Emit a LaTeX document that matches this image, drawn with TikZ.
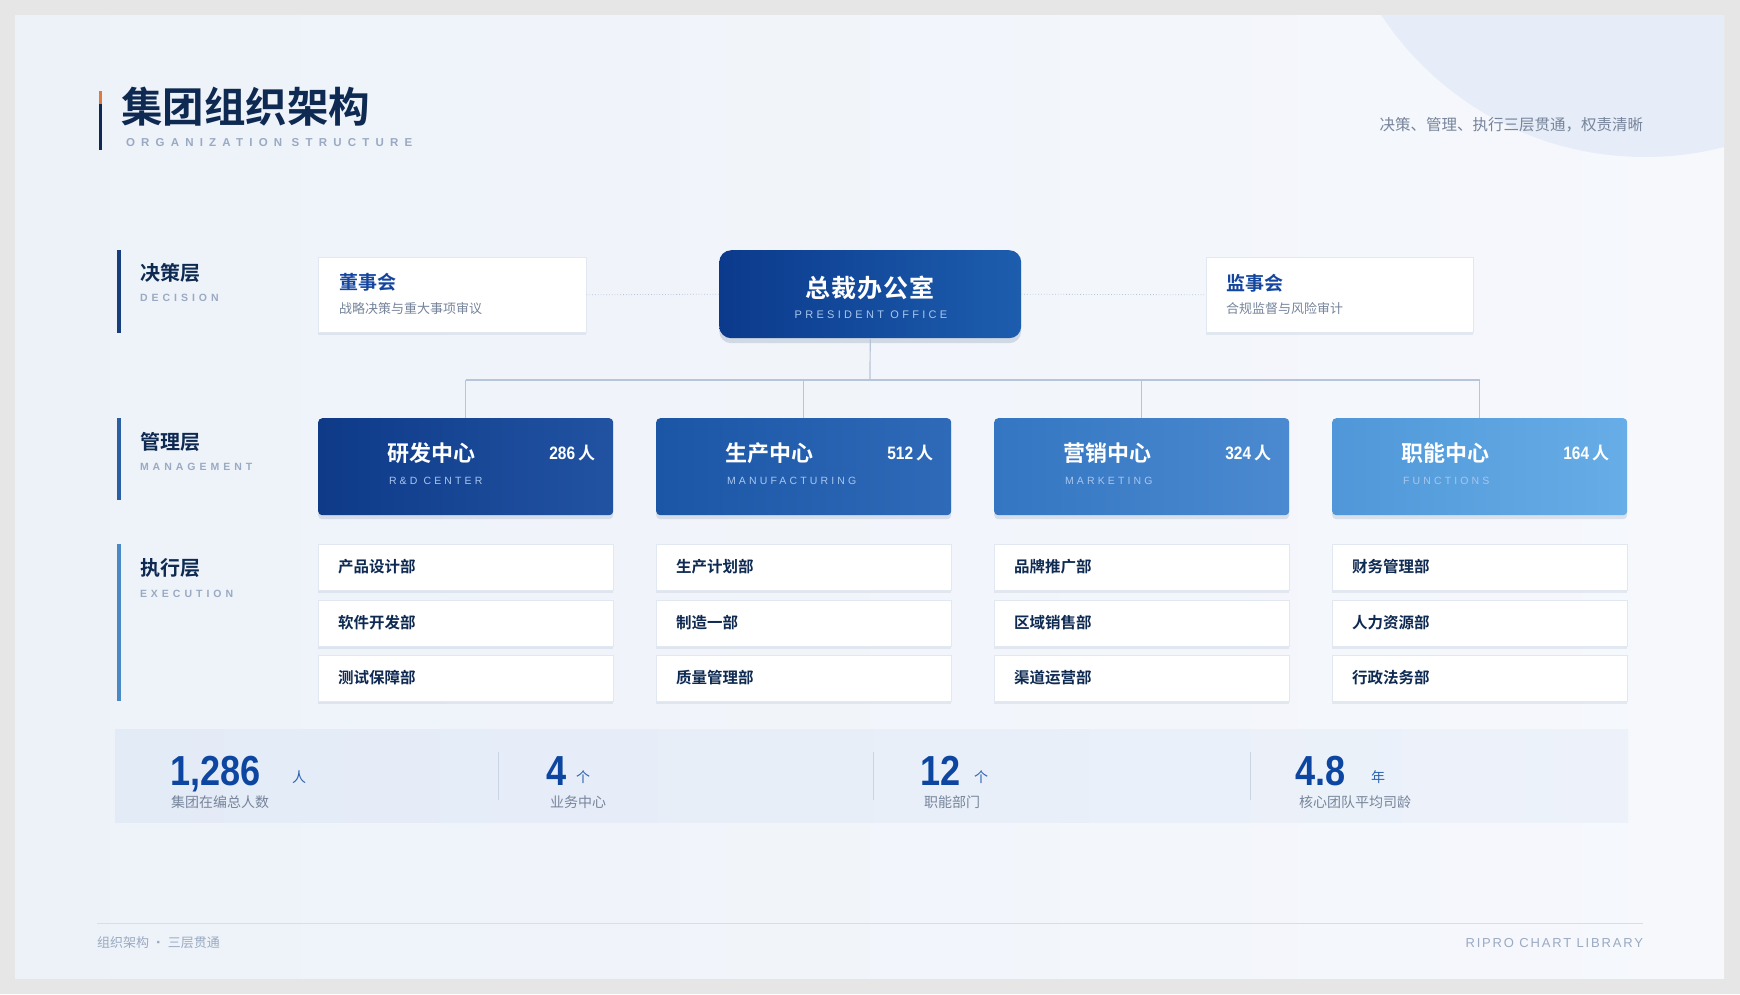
\documentclass[tikz,border=0pt]{standalone}
\usepackage{fontspec}
\setmainfont{Noto Sans CJK SC}[BoldFont={Noto Sans CJK SC Bold}]
\newfontfamily\numf{Liberation Sans}[FakeStretch=0.86]
\newfontfamily\spcf{Liberation Sans}[LetterSpace=54]
\newfontfamily\spcm{Liberation Sans}[LetterSpace=30]
\newfontfamily\spcl{Liberation Sans}[LetterSpace=38]
\newfontfamily\spcs{Liberation Sans}[LetterSpace=14]
\usetikzlibrary{shadows}
\definecolor{outerg}{HTML}{E6E6E7}
\definecolor{slideL}{HTML}{EDF2F9}
\definecolor{slideR}{HTML}{F6F8FC}
\definecolor{circc}{HTML}{E6EDF8}
\definecolor{titlec}{HTML}{0F2A52}
\definecolor{subc}{HTML}{9AAAC2}
\definecolor{accento}{HTML}{E07A3C}
\definecolor{bar1}{HTML}{173F7E}
\definecolor{bar2}{HTML}{2B5FA3}
\definecolor{bar3}{HTML}{4A88C6}
\definecolor{bluet}{HTML}{1446A0}
\definecolor{greyt}{HTML}{76849A}
\definecolor{boxline}{HTML}{E2E8F1}
\definecolor{shadowc}{HTML}{1A3A6A}
\definecolor{presA}{HTML}{0B3A8C}
\definecolor{presB}{HTML}{1D5DAE}
\definecolor{c1a}{HTML}{0E3A88}
\definecolor{c1b}{HTML}{2153A2}
\definecolor{c2a}{HTML}{1B56A6}
\definecolor{c2b}{HTML}{2E6AB8}
\definecolor{c3a}{HTML}{3476C2}
\definecolor{c3b}{HTML}{4B8AD0}
\definecolor{c4a}{HTML}{4F97D8}
\definecolor{c4b}{HTML}{67ADE7}
\definecolor{csub}{HTML}{A9C6EE}
\definecolor{busc}{HTML}{B7C5D8}
\definecolor{bandL}{HTML}{E3EBF7}
\definecolor{bandR}{HTML}{EDF2FA}
\definecolor{numc}{HTML}{0D46A0}
\definecolor{unitc}{HTML}{2A62B0}
\definecolor{divc}{HTML}{C9D4E4}
\definecolor{footc}{HTML}{D6DEE9}
\begin{document}
\begin{tikzpicture}[x=1pt,y=-1pt,
  txt/.style={inner sep=0pt, outer sep=0pt},
  whitebox/.style={draw=boxline, line width=0.6pt, fill=white, inner sep=0pt, anchor=north west,
     drop shadow={shadow xshift=0pt, shadow yshift=-3pt, opacity=0.08, fill=shadowc}},
  cbox/.style={rounded corners=4pt, inner sep=0pt, anchor=north west, minimum width=295, minimum height=97,
     drop shadow={shadow xshift=0pt, shadow yshift=-4pt, opacity=0.12, fill=shadowc}},
  layt/.style={txt, anchor=west, text=titlec, font=\bfseries\fontsize{20}{20}\selectfont},
  lays/.style={txt, anchor=west, text=subc, font=\spcl\bfseries\fontsize{10.5}{10.5}\selectfont},
  deptt/.style={txt, anchor=west, text=titlec, font=\bfseries\fontsize{15.5}{16}\selectfont},
  statn/.style={txt, anchor=base west, text=numc, font=\numf\bfseries\fontsize{42}{42}\selectfont},
  statu/.style={txt, anchor=base west, text=unitc, font=\fontsize{14}{14}\selectfont},
  statl/.style={txt, anchor=west, text=greyt, font=\fontsize{14}{14}\selectfont},
  conn/.style={draw=busc, line width=1.2pt},
  dotconn/.style={draw=busc, line width=0.8pt, dotted}
]
\useasboundingbox (0,0) rectangle (1740,994);
\fill[outerg] (0,0) rectangle (1740,994);
\begin{scope}
  \clip (15,15) rectangle (1724,978);
  \shade[left color=slideL, right color=slideR] (15,15) rectangle (1724,978);
  \fill[circc] (1645,-159) circle[radius=316pt];
\end{scope}

% title
\fill[accento] (98.5,91) rectangle (101.5,104);
\fill[titlec] (98.5,104) rectangle (101.5,150);
\node[txt, anchor=west, text=titlec, font=\bfseries\fontsize{41.5}{42}\selectfont] (title) at (121,107) {集团组织架构};
\node[txt, anchor=west, text=subc, font=\spcf\bfseries\fontsize{11.5}{11.5}\selectfont] (titlesub) at (126,143) {ORGANIZATION STRUCTURE};
\node[txt, anchor=east, text=greyt, font=\fontsize{15.5}{16}\selectfont] (motto) at (1643,125) {决策、管理、执行三层贯通，权责清晰};

% layer labels
\fill[bar1] (117,250) rectangle (121,333);
\fill[bar2] (117,418) rectangle (121,500);
\fill[bar3] (117,544) rectangle (121,701);
\node[layt] (l1) at (140,273) {决策层};
\node[lays] (l1s) at (140,298) {DECISION};
\node[layt] (l2) at (140,442) {管理层};
\node[lays] (l2s) at (140,467) {MANAGEMENT};
\node[layt] (l3) at (140,568) {执行层};
\node[lays] (l3s) at (140,594) {EXECUTION};

% decision row
\node[whitebox, minimum width=268, minimum height=75] (board) at (318,257) {};
\node[txt, anchor=west, text=bluet, font=\bfseries\fontsize{19}{19}\selectfont] (boardt) at (339,282) {董事会};
\node[txt, anchor=west, text=greyt, font=\fontsize{13}{13}\selectfont] (boards) at (339,309) {战略决策与重大事项审议};
\node[whitebox, minimum width=267, minimum height=75] (sup) at (1206,257) {};
\node[txt, anchor=west, text=bluet, font=\bfseries\fontsize{19}{19}\selectfont] (supt) at (1226,283) {监事会};
\node[txt, anchor=west, text=greyt, font=\fontsize{13}{13}\selectfont] (sups) at (1226,309) {合规监督与风险审计};
\node[rounded corners=12pt, inner sep=0pt, anchor=north west, minimum width=302, minimum height=88,
  left color=presA, right color=presB,
  drop shadow={shadow xshift=0pt, shadow yshift=-5pt, opacity=0.15, fill=shadowc}] (pres) at (719,250) {};
\node[txt, text=white, font=\bfseries\fontsize{25}{25}\selectfont] (prest) at (870,288) {总\kern1pt 裁\kern1pt 办\kern1pt 公\kern1pt 室};
\node[txt, text=csub, font=\spcm\fontsize{11}{11}\selectfont] (press) at (871,315) {PRESIDENT OFFICE};
\draw[dotconn] (board.east) -- (pres.west);
\draw[dotconn] (pres.east) -- (sup.west);

% management row
\coordinate (bus) at (870,380);
\foreach \i/\L/\ttl/\sub/\num in {1/318/研发中心/R\&D CENTER/286, 2/656/生产中心/MANUFACTURING/512, 3/994/营销中心/MARKETING/324, 4/1332/职能中心/FUNCTIONS/164}{
  \node[cbox, left color=c\i a, right color=c\i b] (c\i) at (\L,418) {};
  \node[txt, anchor=west, text=white, font=\bfseries\fontsize{22}{22}\selectfont] (c\i t) at (\L+69,453) {\ttl};
  \node[txt, anchor=west, text=csub, font=\spcm\fontsize{10.5}{10.5}\selectfont] (c\i s) at (\L+71,481) {\sub};
  \node[txt, anchor=east, text=white, font=\bfseries\fontsize{17}{17}\selectfont] (c\i n) at (\L+277,453) {{\numf\bfseries\fontsize{18}{18}\selectfont \num}\,人};
}
\coordinate (busL) at (c1.north |- bus);
\coordinate (busR) at (c4.north |- bus);
\draw[conn] (pres.south) -- (bus);
\draw[conn] (busL) -- (busR);
\foreach \i in {1,2,3,4}{ \draw[conn] (c\i.north |- bus) -- (c\i.north); }

% execution row
\foreach \i/\L/\da/\db/\dc in {1/318/产品设计部/软件开发部/测试保障部, 2/656/生产计划部/制造一部/质量管理部, 3/994/品牌推广部/区域销售部/渠道运营部, 4/1332/财务管理部/人力资源部/行政法务部}{
  \node[whitebox, minimum width=295, minimum height=46] (d\i a) at (\L,544) {};
  \node[deptt] (d\i at) at (\L+20,567) {\da};
  \node[whitebox, minimum width=295, minimum height=46] (d\i b) at (\L,600) {};
  \node[deptt] (d\i bt) at (\L+20,623) {\db};
  \node[whitebox, minimum width=295, minimum height=46] (d\i c) at (\L,655) {};
  \node[deptt] (d\i ct) at (\L+20,678) {\dc};
}

% stats band
\node[inner sep=0pt, anchor=north west, minimum width=1513, minimum height=93, left color=bandL, right color=bandR] (band) at (115,729) {};
\draw[divc, line width=0.8pt] (498,752) -- (498,800);
\draw[divc, line width=0.8pt] (873,752) -- (873,800);
\draw[divc, line width=0.8pt] (1250,752) -- (1250,800);
\node[statn] (s1) at (170,785) {1,286};
\node[statu] (s1u) at (292,782) {人};
\node[statl] (s1l) at (171,802) {集团在编总人数};
\node[statn] (s2) at (546,785) {4};
\node[statu] (s2u) at (576,782) {个};
\node[statl] (s2l) at (550,802) {业务中心};
\node[statn] (s3) at (920,785) {12};
\node[statu] (s3u) at (974,782) {个};
\node[statl] (s3l) at (924,802) {职能部门};
\node[statn] (s4) at (1295,785) {4.8};
\node[statu] (s4u) at (1371,782) {年};
\node[statl] (s4l) at (1299,802) {核心团队平均司龄};

% footer
\draw[footc, line width=0.8pt] (97,923) -- (1643,923);
\node[txt, anchor=west, text=subc, font=\fontsize{13}{13}\selectfont] (footl) at (97,943) {组织架构 · 三层贯通};
\node[txt, anchor=east, text=subc, font=\spcs\fontsize{13}{13}\selectfont] (footr) at (1643,943) {RIPRO CHART LIBRARY};
\end{tikzpicture}
\end{document}
